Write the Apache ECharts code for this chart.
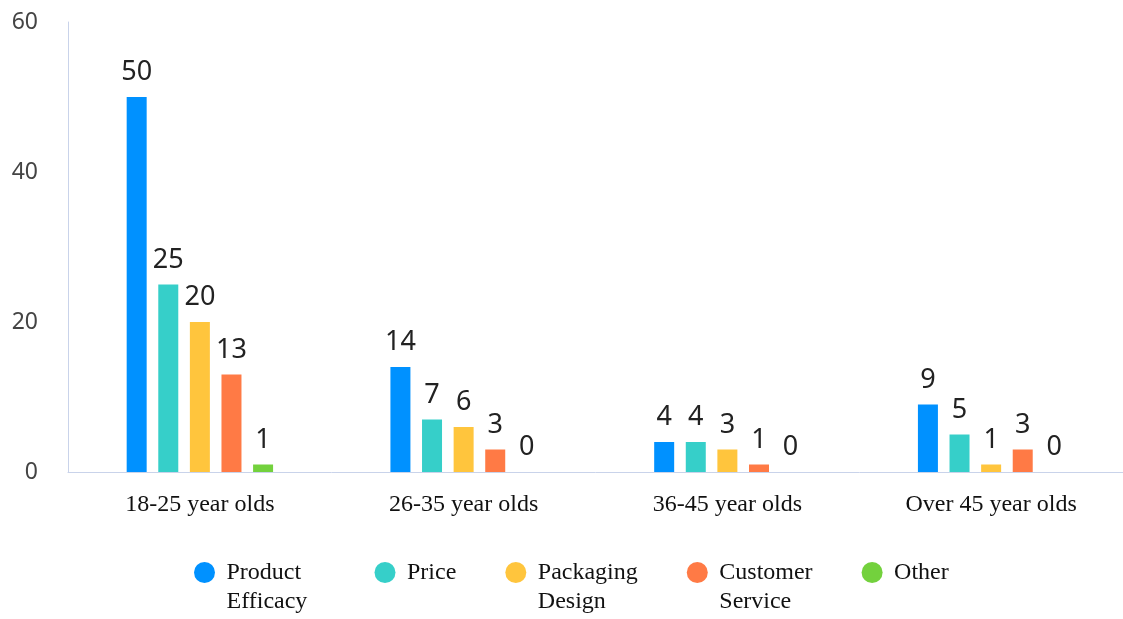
<!DOCTYPE html>
<html>
<head>
<meta charset="utf-8">
<script src="https://cdn.jsdelivr.net/npm/echarts@6/dist/echarts.min.js"></script>
<style>
  html, body { margin: 0; padding: 0; background: #fff; }
  #chart { width: 1123px; height: 619px; }
</style>
</head>
<body>
<div id="chart"></div>
<script>
// Age groups along the x axis
const ageGroups = ['18-25 year olds', '26-35 year olds', '36-45 year olds', 'Over 45 year olds'];

// Number of respondents per deciding factor, one value per age group
const productEfficacy = [50, 14, 4, 9];
const price = [25, 7, 4, 5];
const packagingDesign = [20, 6, 3, 1];
const customerService = [13, 3, 1, 3];
const other = [1, 0, 0, 0];

const seriesNames = ['Product Efficacy', 'Price', 'Packaging Design', 'Customer Service', 'Other'];
const seriesValues = [productEfficacy, price, packagingDesign, customerService, other];
const palette = ['#0091FF', '#36CFC9', '#FFC53D', '#FF7A45', '#73D13D'];

const yTicks = { min: 0, max: 60, interval: 20 };

const chart = echarts.init(document.getElementById('chart'));

// Two-word legend names wrap onto a second line; a leading blank line keeps
// the first word level with the round marker.
function legendText(name) {
  const parts = name.split(' ');
  return parts.length > 1 ? '\n' + parts[0] + '\n' + parts.slice(1).join(' ') : name;
}

chart.setOption({
  color: palette,
  animation: false,
  grid: { left: 68, right: -2, top: 22, bottom: 147, containLabel: false },
  legend: {
    left: 189,
    top: 524,
    icon: 'circle',
    itemWidth: 34,
    itemHeight: 21,
    itemGap: 49,
    data: seriesNames.map((n, i) => (i === 0 ? { name: n, textStyle: { width: 99 } } : { name: n })),
    formatter: legendText,
    textStyle: {
      fontFamily: '"Liberation Serif", serif',
      fontSize: 24,
      color: '#111',
      lineHeight: 29
    }
  },
  xAxis: {
    type: 'category',
    data: ageGroups,
    axisLine: { lineStyle: { color: '#C9D3EA' } },
    axisTick: { show: false },
    axisLabel: {
      margin: 21,
      fontFamily: '"Liberation Serif", serif',
      fontSize: 24,
      color: '#111'
    }
  },
  yAxis: {
    type: 'value',
    min: yTicks.min,
    max: yTicks.max,
    interval: yTicks.interval,
    axisLine: { show: true, lineStyle: { color: '#C9D3EA' } },
    axisTick: { show: false },
    splitLine: { show: false },
    axisLabel: {
      margin: 30,
      fontFamily: '"Noto Sans", sans-serif',
      fontSize: 23,
      color: '#444'
    }
  },
  series: seriesNames.map((name, i) => ({
    name: name,
    type: 'bar',
    data: seriesValues[i],
    barWidth: 20,
    barGap: '58%',
    barCategoryGap: '44%',
    label: {
      show: true,
      position: 'top',
      distance: 11,
      fontFamily: '"Noto Sans", sans-serif',
      fontSize: 27,
      color: '#222'
    }
  }))
});
</script>
</body>
</html>
